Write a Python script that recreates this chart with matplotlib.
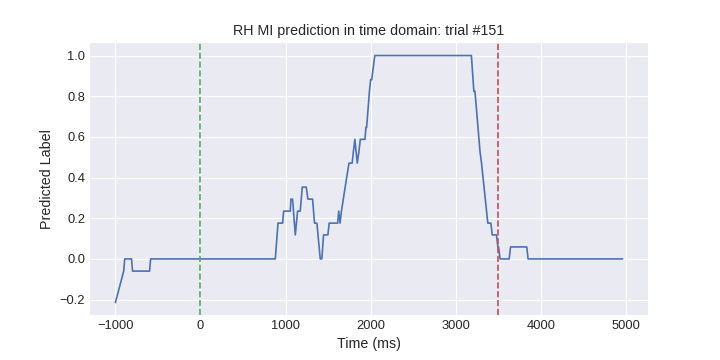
import matplotlib
matplotlib.use('Agg')
import matplotlib.pyplot as plt

# 预测标签随时间变化（阶梯折线的拐点）
time_ms = [-1000, -902, -890, -810, -798, -598, -586, 879, 911, 965, 977,
           1055, 1063, 1082, 1114, 1141, 1172, 1196, 1243, 1262, 1317, 1340,
           1368, 1407, 1426, 1446, 1497, 1512, 1612, 1624, 1640, 1656, 1700,
           1722, 1745, 1782, 1797, 1814, 1842, 1862, 1878, 1932, 1944, 1952,
           1985, 2000, 2012, 2048, 3183, 3212, 3225, 3284, 3302, 3376, 3412,
           3428, 3478, 3494, 3502, 3520, 3627, 3643, 3834, 3849, 4960]
pred = [-0.215, -0.06, 0.0, 0.0, -0.06, -0.06, 0.0, 0.0, 0.176, 0.176, 0.235,
        0.235, 0.294, 0.294, 0.118, 0.235, 0.235, 0.353, 0.353, 0.294, 0.294, 0.176,
        0.176, 0.0, 0.0, 0.118, 0.118, 0.176, 0.176, 0.235, 0.176, 0.235, 0.353,
        0.412, 0.471, 0.471, 0.529, 0.588, 0.471, 0.529, 0.588, 0.588, 0.647, 0.647,
        0.824, 0.882, 0.882, 1.0, 1.0, 0.824, 0.824, 0.529, 0.471, 0.176, 0.176,
        0.118, 0.118, 0.059, 0.059, 0.0, 0.0, 0.059, 0.059, 0.0, 0.0]

cue_onset = 0
cue_offset = 3500

plt.style.use('seaborn-v0_8-darkgrid')
plt.rcParams['font.sans-serif'] = ['Liberation Sans', 'DejaVu Sans']

fig, ax = plt.subplots(figsize=(7.2, 3.6), dpi=100)
ax.plot(time_ms, pred, color='#4c72b0', linewidth=1.2)
ax.axvline(x=cue_onset, color='#55a868', linestyle='--', linewidth=1.2)
ax.axvline(x=cue_offset, color='#c44e52', linestyle='--', linewidth=1.2)

ax.set_title('RH MI prediction in time domain: trial #151', fontsize=10.3)
ax.set_xlabel('Time (ms)', fontsize=10.3)
ax.set_ylabel('Predicted Label', fontsize=10.3)
ax.tick_params(labelsize=9.3)

fig.subplots_adjust(left=0.125, right=0.9, bottom=0.125, top=0.88)
fig.savefig('out.png', dpi=100)
plt.close(fig)
